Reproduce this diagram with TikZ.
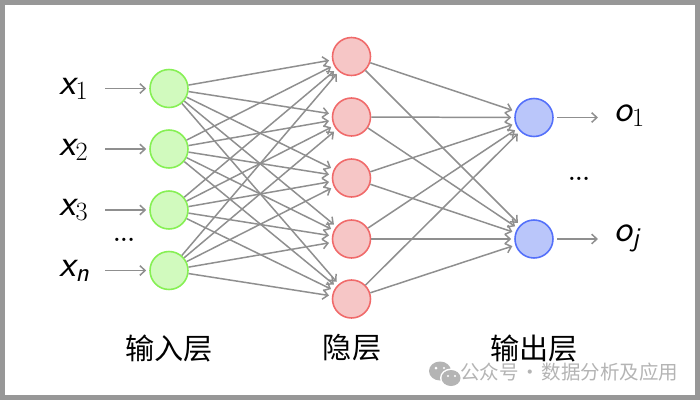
\documentclass[tikz,border=0pt]{standalone}
\usepackage{fontspec}
\newfontfamily\cjk{Noto Sans CJK SC}
\usepackage{xcolor}
\usetikzlibrary{positioning, arrows.meta, calc}
\definecolor{framegray}{HTML}{979797}
\definecolor{linkgray}{HTML}{8F8F8F}
\definecolor{markgray}{HTML}{B4B4B4}
\newcommand{\subnum}[1]{\raisebox{-3.4pt}{\fontsize{15}{15}\selectfont\rmfamily\upshape #1}}
\newcommand{\subvar}[1]{\raisebox{-3.4pt}{\fontsize{15.5}{15}\selectfont #1}}

\begin{document}
\begin{tikzpicture}[
    x=0.02cm, y=-0.02cm,
    neuron/.style={circle, line width=0.9pt, minimum size=0.76cm, inner sep=0pt},
    inputnode/.style={neuron, draw={rgb,255:red,134;green,240;blue,84}, fill={rgb,255:red,209;green,250;blue,190}},
    hiddennode/.style={neuron, draw={rgb,255:red,240;green,106;blue,106}, fill={rgb,255:red,246;green,198;blue,198}},
    outputnode/.style={neuron, draw={rgb,255:red,84;green,112;blue,250}, fill={rgb,255:red,186;green,198;blue,250}},
    link/.style={draw=linkgray, line width=0.85pt, -{Straight Barb[length=3pt,width=5.5pt]}},
    inlink/.style={link, shorten >=1.7pt},
    outlink/.style={link, shorten <=2pt},
    varlabel/.style={font=\fontsize{21.5}{24}\selectfont\sffamily\itshape, inner sep=0pt, anchor=base west},
    layerlabel/.style={font=\cjk\fontsize{16.6}{20}\selectfont, inner sep=0pt},
    dotlabel/.style={font=\fontsize{13}{16}\selectfont\bfseries, inner sep=0pt}
]
% frame
\fill[framegray] (0,0) rectangle (700,400);
\fill[white] (5,5) rectangle (695,395);
\useasboundingbox (0,0) rectangle (700,400);

% layers
\foreach \i/\yy in {1/88.5, 2/149, 3/210, 4/270.5}
    \node[inputnode] (in\i) at (169,\yy) {};
\foreach \i/\yy in {1/56.5, 2/117, 3/178, 4/239, 5/299}
    \node[hiddennode] (hid\i) at (351.5,\yy) {};
\foreach \i/\yy in {1/117.5, 2/239}
    \node[outputnode] (out\i) at (534,\yy) {};

% connections
\foreach \i in {1,...,4}
    \foreach \j in {1,...,5}
        \draw[inlink] (in\i) -- (hid\j);
\foreach \i in {1,...,5}
    \foreach \j in {1,2}
        \draw[inlink] (hid\i) -- (out\j);

% inputs and outputs
\foreach \i in {1,...,4} {
    \coordinate (start\i) at ($(in\i)+(-64,0)$);
    \draw[inlink] (start\i) -- (in\i);
}
\node[varlabel] (x1) at (59,94) {x\subnum{1}};
\node[varlabel] (x2) at (59,155) {x\subnum{2}};
\node[varlabel] (x3) at (59,215) {x\subnum{3}};
\node[varlabel] (xn) at (59,276) {x\subvar{n}};
\node[dotlabel] (indots) at (124,240) {...};

\foreach \i in {1,2} {
    \coordinate (end\i) at ($(out\i)+(64,0)$);
    \draw[outlink] (out\i) -- (end\i);
}
\node[varlabel] (o1) at (614,121) {o\subnum{1}};
\node[varlabel] (oj) at (614,241) {o\subvar{j}};
\node[dotlabel] (outdots) at (579,179) {...};

% layer names
\node[layerlabel] (inname) at (169,348) {输入层};
\node[layerlabel] (hidname) at (352,348) {隐层};
\node[layerlabel] (outname) at (534,348) {输出层};

% watermark
\fill[markgray] (440,371) ellipse (11 and 9.5);
\fill[white] (451,378) ellipse (11 and 9.5);
\fill[markgray] (451,378) ellipse (9.5 and 8);
\fill[white] (436,368) circle (1.5) (444,368) circle (1.2) (448,376) circle (1.2) (455,376) circle (1.2);
\node[font=\cjk\fontsize{11.1}{13}\selectfont, text=markgray, anchor=west, inner sep=0pt] (mark) at (460,372) {公众号\hspace{1pt}·\hspace{1pt}数据分析及应用};
\end{tikzpicture}
\end{document}
